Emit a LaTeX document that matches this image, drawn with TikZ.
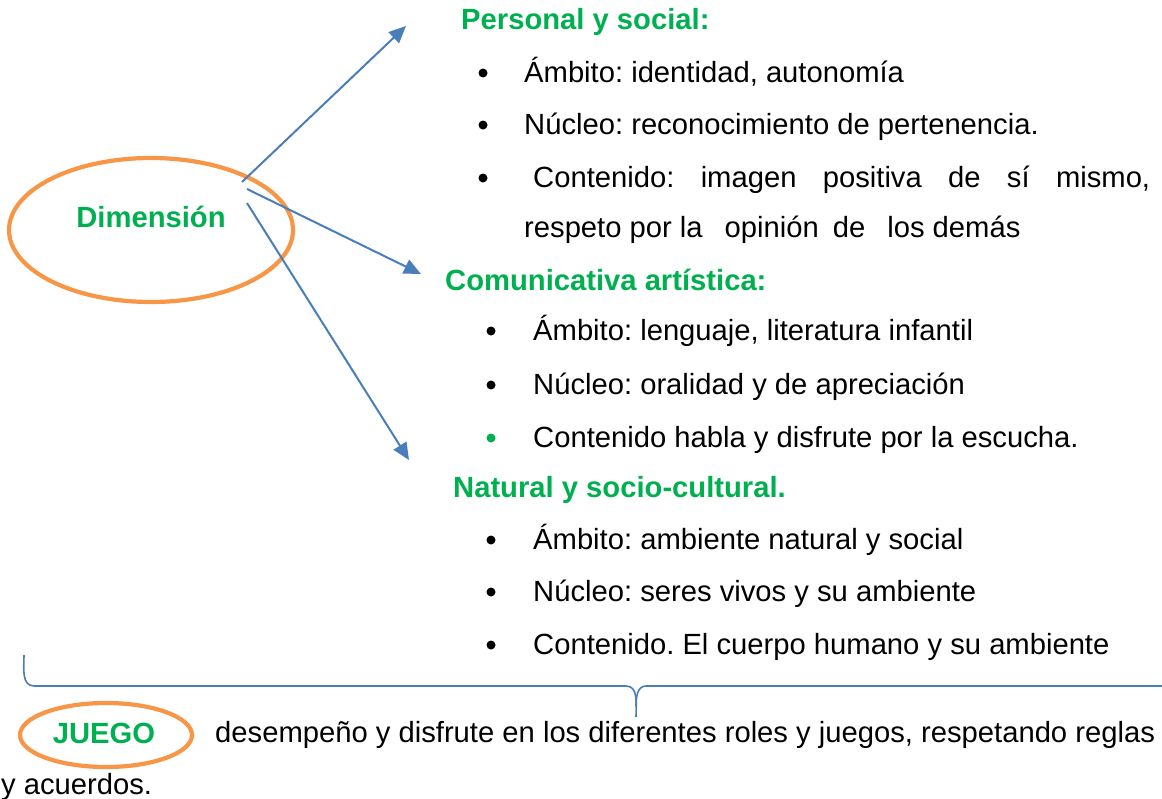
\documentclass[tikz,border=0pt]{standalone}
\usepackage{fontspec}
\setmainfont{Liberation Sans}
\usetikzlibrary{arrows.meta,shapes.geometric}
\definecolor{hgreen}{HTML}{00B050}
\definecolor{horange}{HTML}{F79646}
\definecolor{hblue}{HTML}{4A7EBB}
\frenchspacing
\tikzset{
  txt/.style={anchor=base west, inner sep=0pt, font=\fontsize{29.2}{34}\selectfont},
  head/.style={txt, text=hgreen, font=\fontsize{29.2}{34}\selectfont\bfseries},
  dot/.style={circle, fill=black, inner sep=0pt, minimum size=9pt},
  gdot/.style={circle, fill=hgreen, inner sep=0pt, minimum size=9pt},
  oval/.style={draw=horange, line width=4.2pt, ellipse, inner sep=0pt},
  conn/.style={draw=hblue, line width=2pt, -{Triangle[length=17pt,width=15pt]}},
  brace/.style={draw=hblue, line width=1.6pt}
}
\begin{document}
\begin{tikzpicture}[x=1pt,y=-1pt]
\useasboundingbox (0,0) rectangle (1162,798);
% Dimension ellipse
\node[oval, minimum width=284pt, minimum height=144pt] (dim) at (151,230) {};
\node[text=hgreen, font=\fontsize{29.2}{34}\selectfont\bfseries, inner sep=0pt] (dimtxt) at (151,217) {Dimensión};
% arrows
\coordinate (s1) at (242,182);
\coordinate (s2) at (247,189);
\coordinate (s3) at (247,203);
\coordinate (t1) at (406,26);
\coordinate (t2) at (421,274);
\coordinate (t3) at (409,460);
\draw[conn] (s1) -- (t1);
\draw[conn] (s2) -- (t2);
\draw[conn] (s3) -- (t3);
% Personal y social
\node[head] (h1) at (461,29) {Personal y social:};
\node[dot] (b11) at (483,73) {};
\node[txt] (l11) at (524,82) {Ámbito: identidad, autonomía};
\node[dot] (b12) at (483,125) {};
\node[txt] (l12) at (524,134) {Núcleo: reconocimiento de pertenencia.};
\node[dot] (b13) at (483,178) {};
\node[txt] (l13) at (533,187) {\makebox[617pt][s]{Contenido: imagen positiva de sí mismo,}};
\node[txt] (l14) at (524,237) {respeto por la\hspace{22pt}opinión\hspace{14pt}de\hspace{22pt}los demás};
% Comunicativa
\node[head] (h2) at (445,290) {Comunicativa artística:};
\node[dot] (b21) at (491,331) {};
\node[txt] (l21) at (533,340) {Ámbito: lenguaje, literatura infantil};
\node[dot] (b22) at (491,385) {};
\node[txt] (l22) at (533,394) {Núcleo: oralidad y de apreciación};
\node[gdot] (b23) at (491,438) {};
\node[txt] (l23) at (533,447) {Contenido habla y disfrute por la escucha.};
% Natural
\node[head] (h3) at (453,497) {Natural y socio-cultural.};
\node[dot] (b31) at (491,540) {};
\node[txt] (l31) at (533,549) {Ámbito: ambiente natural y social};
\node[dot] (b32) at (491,592) {};
\node[txt] (l32) at (533,601) {Núcleo: seres vivos y su ambiente};
\node[dot] (b33) at (491,645) {};
\node[txt] (l33) at (533,654) {Contenido. El cuerpo humano y su ambiente};
% brace
\coordinate (bl) at (24,655);
\coordinate (bt) at (636,717);
\coordinate (br) at (1162,686);
\draw[brace] (bl) to[out=-90,in=180] (34,686) -- (626,686) to[out=0,in=90] (bt);
\draw[brace] (636,706) to[out=90,in=180] (646,686) -- (br);
% JUEGO
\node[oval, minimum width=172pt, minimum height=64pt] (jov) at (106,735) {};
\node[text=hgreen, font=\fontsize{29.2}{34}\selectfont\bfseries, inner sep=0pt] (jtxt) at (104,733) {JUEGO};
\node[txt] (j1) at (215,742) {desempeño y disfrute en los diferentes roles y juegos, respetando reglas};
\node[txt] (j2) at (1,794) {y acuerdos.};
\end{tikzpicture}
\end{document}
